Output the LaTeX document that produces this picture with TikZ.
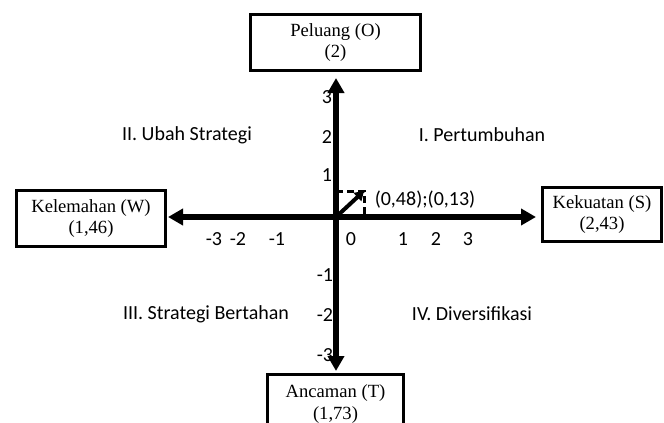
\documentclass[tikz,border=0pt]{standalone}
\usepackage{fontspec}
\setmainfont{Liberation Serif}
\newfontfamily\calfont{Carlito}
\usetikzlibrary{arrows.meta}
\begin{document}
\begin{tikzpicture}[x=1pt,y=-1pt,
  box/.style={draw,line width=2.6pt,inner sep=0pt,align=center,
    font=\fontsize{18.6}{21.5}\selectfont},
  lbl/.style={font=\calfont\fontsize{20}{22}\selectfont,inner sep=0pt},
  axis/.style={line width=5.5pt,-{Triangle[length=15pt,width=16pt]}},
  dashline/.style={line width=3pt,dash pattern=on 7pt off 4pt},
  ptarrow/.style={line width=4pt,-{Triangle[length=9pt,width=11pt]}}]
\clip (0,0) rectangle (664,423);
\fill[white] (0,0) rectangle (664,423);
% boxes
\node[box,minimum width=170pt,minimum height=56pt] (O) at (335.5,42.5) {Peluang (O)\\(2)};
\node[box,minimum width=149pt,minimum height=56pt] (W) at (91,218.5) {Kelemahan (W)\\(1,46)};
\node[box,minimum width=119pt,minimum height=54pt] (S) at (602,214.5) {Kekuatan (S)\\(2,43)};
\node[box,minimum width=136pt,minimum height=59pt] (T) at (335.5,404) {Ancaman (T)\\(1,73)};
% tick labels
\node[lbl] (y3) at (327,97) {3};
\node[lbl] (y2) at (327,137) {2};
\node[lbl] (y1) at (327,175) {1};
\node[lbl] (ym1) at (325,275) {-1};
\node[lbl] (ym2) at (325,315) {-2};
\node[lbl] (ym3) at (325,355) {-3};
\node[lbl] (xm3) at (214,239) {-3};
\node[lbl] (xm2) at (238,239) {-2};
\node[lbl] (xm1) at (277,239) {-1};
\node[lbl] (x0) at (351,239) {0};
\node[lbl] (x1) at (403,239) {1};
\node[lbl] (x2) at (436,239) {2};
\node[lbl] (x3) at (468,239) {3};
% quadrant labels
\node[lbl] (q2) at (187,135) {II. Ubah Strategi};
\node[lbl] (q1) at (482,135) {I. Pertumbuhan};
\node[lbl] (q3) at (206,314) {III. Strategi Bertahan};
\node[lbl] (q4) at (472,314) {IV. Diversifikasi};
% axes
\coordinate (org) at (336,217);
\coordinate (xl) at (168,217);
\coordinate (xr) at (536,217);
\coordinate (yt) at (336,78);
\coordinate (yb) at (336,371);
\draw[axis] (org) -- (yt);
\draw[axis] (org) -- (yb);
\draw[axis] (org) -- (xl);
\draw[axis] (org) -- (xr);
% point
\coordinate (pt) at (364,191);
\coordinate (ptx) at (336,191);
\coordinate (pty) at (364,217);
\draw[dashline] (ptx) -- (pt) -- (pty);
\draw[ptarrow] (org) -- (pt);
\node[lbl] (pl) at (425,200) {(0,48);(0,13)};
\end{tikzpicture}
\end{document}
